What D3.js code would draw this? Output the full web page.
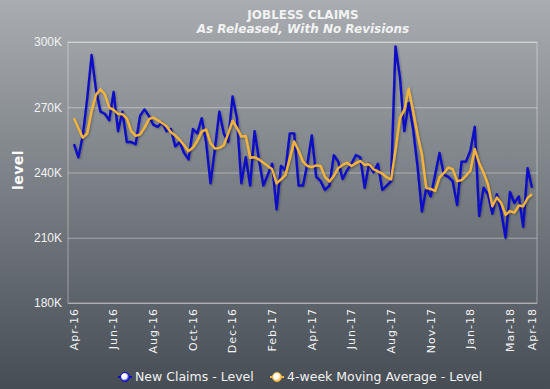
<!DOCTYPE html>
<html>
<head>
<meta charset="utf-8">
<script src="https://cdn.jsdelivr.net/npm/d3@7"></script>
<style>
html, body { margin: 0; padding: 0; }
body { width: 550px; height: 389px; overflow: hidden; }
svg { display: block; font-family: "DejaVu Sans", Verdana, sans-serif; }
</style>
</head>
<body>
<svg></svg>
<script>
// weekly releases, thousands
const newClaims = [
    253, 247, 257, 274, 294, 278, 268, 267, 264, 277, 259, 268, 254, 254, 253, 266,
    269, 266, 262, 261, 263, 259, 260, 252, 254, 249, 246, 260, 258, 265, 254, 235,
    251, 268, 258, 254, 275, 265, 235, 247, 234, 259, 246, 234, 239, 244, 223, 243,
    241, 258, 258, 234, 234, 244, 257, 238, 236, 232, 234, 248, 245, 237, 241, 244,
    248, 247, 233, 244, 240, 244, 232, 234, 236, 298, 284, 259, 272, 260, 243, 222,
    233, 229, 239, 249, 239, 238, 236, 225, 245, 245, 250, 261, 220, 233, 230, 221,
    230, 222, 210, 231, 226, 229, 215, 242, 233
];
const movingAvg = [
    265.0, 260.3, 256.0, 258.0, 268.3, 275.8, 278.3, 276.0, 269.8, 268.8, 267.0, 266.8,
    264.8, 259.0, 256.8, 257.5, 260.5, 264.5, 265.3, 264.0, 262.8, 261.3, 258.5, 257.0,
    255.0, 252.5, 249.8, 251.5, 254.5, 258.8, 259.8, 253.5, 251.0, 251.3, 252.5, 257.8,
    263.8, 260.5, 256.5, 256.8, 246.8, 247.0, 246.0, 244.5, 243.0, 241.5, 235.0, 236.8,
    238.8, 246.5, 254.3, 250.0, 245.0, 243.0, 242.5, 243.3, 243.0, 238.0, 235.8, 238.5,
    242.0, 243.5, 244.5, 243.0, 244.3, 245.3, 243.5, 243.8, 241.5, 240.5, 239.5, 237.8,
    236.8, 250.3, 265.0, 268.8, 278.5, 268.3, 257.5, 248.3, 232.8, 232.5, 231.5, 237.8,
    239.8, 242.3, 241.5, 236.0, 236.5, 238.5, 240.8, 250.8, 244.3, 240.0, 234.5, 224.5,
    228.5, 226.0, 220.5, 222.3, 221.5, 224.8, 224.5, 228.3, 230.0
];
const firstWeek = new Date(2016, 3, 14);
const categories = newClaims.map((d, i) => d3.timeFormat("%Y-%m-%d")(d3.timeDay.offset(firstWeek, 7 * i)));
const tickIndex = [0, 9, 18, 27, 36, 45, 54, 63, 72, 81, 90, 99, 104];
const tickLabels = ["Apr-16", "Jun-16", "Aug-16", "Oct-16", "Dec-16", "Feb-17", "Apr-17",
                    "Jun-17", "Aug-17", "Nov-17", "Jan-18", "Mar-18", "Apr-18"];
const yTicks = [180, 210, 240, 270, 300];
const seriesNames = ["New Claims - Level", "4-week Moving Average - Level"];

const W = 550, H = 389;
const plot = { left: 68, right: 537, top: 42, bottom: 303 };
const blue = "#0b0bc6", gold = "#f3b33a", txt = "#f2f2f2";

const svg = d3.select("svg").attr("width", W).attr("height", H);
const defs = svg.append("defs");

const bg = defs.append("linearGradient").attr("id", "bg")
    .attr("x1", 0).attr("y1", 0).attr("x2", 0).attr("y2", 1);
bg.append("stop").attr("offset", "0%").attr("stop-color", "#a9adb1");
bg.append("stop").attr("offset", "100%").attr("stop-color", "#464d55");

const shadow = defs.append("filter").attr("id", "shadow")
    .attr("x", "-5%").attr("y", "-5%").attr("width", "110%").attr("height", "110%");
shadow.append("feDropShadow").attr("dx", 1).attr("dy", 1)
    .attr("stdDeviation", 1).attr("flood-color", "#000").attr("flood-opacity", 0.3);

[["mkBlue", blue], ["mkGold", gold]].forEach(([id, c]) => {
    const g = defs.append("radialGradient").attr("id", id).attr("cx", "40%").attr("cy", "40%").attr("r", "60%");
    g.append("stop").attr("offset", "0%").attr("stop-color", "#ffffff");
    g.append("stop").attr("offset", "45%").attr("stop-color", "#ffffff");
    g.append("stop").attr("offset", "100%").attr("stop-color", c);
});

svg.append("rect").attr("width", W).attr("height", H).attr("fill", "url(#bg)");

const x = d3.scalePoint()
    .domain(categories)
    .range([74, 532]);

const y = d3.scaleLinear()
    .domain([180, 300])
    .range([plot.bottom, plot.top]);

// grid + y labels
const yAxis = svg.append("g")
    .attr("transform", `translate(${plot.left},0)`)
    .call(d3.axisLeft(y)
        .tickValues(yTicks)
        .tickSize(-(plot.right - plot.left))
        .tickPadding(6)
        .tickFormat(d => d + "K"));
yAxis.select(".domain").remove();
yAxis.selectAll("line").attr("stroke", "rgba(255,255,255,0.38)");
yAxis.selectAll("text").attr("fill", txt).style("font-size", "12px");

svg.append("rect")
    .attr("x", plot.left).attr("y", plot.top)
    .attr("width", plot.right - plot.left).attr("height", plot.bottom - plot.top)
    .attr("fill", "none").attr("stroke", "rgba(255,255,255,0.38)");

// x labels, rotated
svg.append("g").selectAll("text")
    .data(tickIndex)
    .enter().append("text")
    .attr("transform", d => `translate(${x(categories[d])},308) rotate(-90)`)
    .attr("dy", "0.35em")
    .attr("text-anchor", "end")
    .attr("fill", txt)
    .style("font-size", "11px")
    .style("letter-spacing", "1px")
    .text((d, i) => tickLabels[i]);

const line = d3.line()
    .x((d, i) => x(categories[i]))
    .y(d => y(d));

svg.append("path")
    .datum(newClaims)
    .attr("d", line)
    .attr("fill", "none")
    .attr("stroke", blue)
    .attr("stroke-width", 2.4)
    .attr("stroke-linejoin", "round")
    .attr("filter", "url(#shadow)");

svg.append("path")
    .datum(movingAvg)
    .attr("d", line)
    .attr("fill", "none")
    .attr("stroke", gold)
    .attr("stroke-width", 2.4)
    .attr("stroke-linejoin", "round")
    .attr("filter", "url(#shadow)");

// titles
svg.append("text")
    .attr("x", 303).attr("y", 19)
    .attr("text-anchor", "middle")
    .attr("fill", txt)
    .style("font-size", "12px").style("font-weight", "bold")
    .text("JOBLESS CLAIMS");
svg.append("text")
    .attr("x", 303).attr("y", 33)
    .attr("text-anchor", "middle")
    .attr("fill", txt)
    .style("font-size", "12px").style("font-weight", "bold").style("font-style", "italic")
    .text("As Released, With No Revisions");

svg.append("text")
    .attr("transform", "translate(23,170) rotate(-90)")
    .attr("text-anchor", "middle")
    .attr("fill", "#ffffff")
    .style("font-size", "14px").style("font-weight", "bold").style("letter-spacing", "0.5px")
    .text("level");

// legend
const legend = svg.append("g").selectAll("g")
    .data(seriesNames)
    .enter().append("g")
    .attr("transform", (d, i) => `translate(${i ? 277 : 125},377)`);
legend.append("line")
    .attr("x1", -7).attr("x2", 7)
    .attr("stroke", (d, i) => i ? gold : blue)
    .attr("stroke-width", 2);
legend.append("circle")
    .attr("r", 4.5)
    .attr("fill", (d, i) => i ? "url(#mkGold)" : "url(#mkBlue)")
    .attr("stroke", (d, i) => i ? gold : blue)
    .attr("stroke-width", 1);
legend.append("text")
    .attr("x", 10).attr("dy", "0.35em")
    .attr("fill", txt)
    .style("font-size", "12.5px")
    .text(d => d);
</script>
</body>
</html>
